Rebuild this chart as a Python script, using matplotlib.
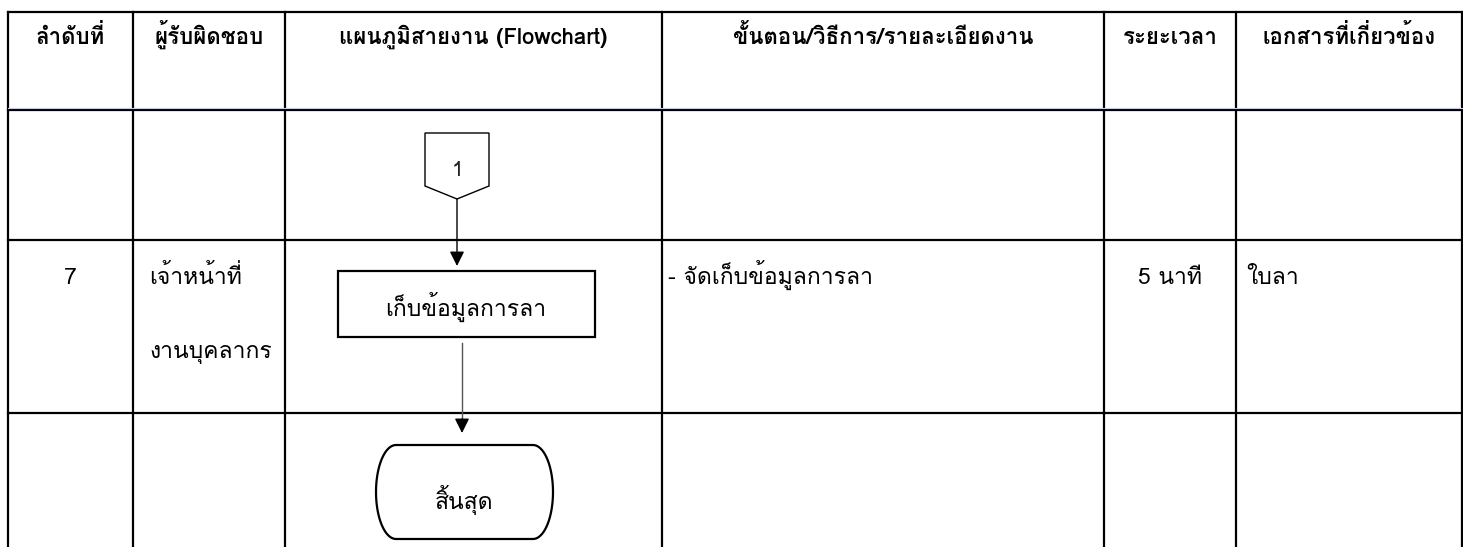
import numpy as np
import matplotlib
matplotlib.use("Agg")
import matplotlib.pyplot as plt
from matplotlib.patches import Polygon, Rectangle

# Loma places tone marks above upper vowels without shaping support
plt.rcParams['font.family'] = ['Loma', 'Sarabun', 'DejaVu Sans']

# table content
headers = ["ลำดับที่", "ผู้รับผิดชอบ", "แผนภูมิสายงาน (Flowchart)",
           "ขั้นตอน/วิธีการ/รายละเอียดงาน", "ระยะเวลา", "เอกสารที่เกี่ยวข้อง"]
step_no = "7"
owner = ["เจ้าหน้าที่", "งานบุคลากร"]
detail = "- จัดเก็บข้อมูลการลา"
duration = "5 นาที"
docs = "ใบลา"
connector_label = "1"
process_label = "เก็บข้อมูลการลา"
end_label = "สิ้นสุด"

# layout (pixels)
col_x = [8, 133, 285, 662, 1104, 1236, 1462]
row_y = [12, 110, 240, 413, 560]
fs_head = 16
fs_body = 16.5

fig = plt.figure(figsize=(14.63, 5.47), dpi=100)
ax = fig.add_axes([0, 0, 1, 1])
ax.set_xlim(0, 1463)
ax.set_ylim(547, 0)
ax.axis('off')

# grid
for x in col_x:
    ax.plot([x, x], [row_y[0], row_y[-1]], color='black', lw=1.6)
for y in row_y[:-1]:
    ax.plot([col_x[0], col_x[-1]], [y, y], color='black', lw=1.6)
ax.plot([col_x[0], col_x[-1]], [row_y[1] - 2, row_y[1] - 2], color='#c5cae6', lw=0.8)

# header
for i, h in enumerate(headers):
    cx = (col_x[i] + col_x[i + 1]) / 2
    ax.text(cx, 44, h, ha='center', va='baseline', fontsize=fs_head, fontweight='bold')

# row 7 text
base = 284
ax.text(70, base, step_no, ha='center', va='baseline', fontsize=fs_body)
ax.text(149, base, owner[0], ha='left', va='baseline', fontsize=fs_body)
ax.text(149, 358, owner[1], ha='left', va='baseline', fontsize=fs_body)
ax.text(668, base, detail, ha='left', va='baseline', fontsize=fs_body)
ax.text(1170, base, duration, ha='center', va='baseline', fontsize=fs_body)
ax.text(1246, base, docs, ha='left', va='baseline', fontsize=fs_body)

# off-page connector
cx = 457
conn = Polygon([[cx - 32, 133], [cx + 32, 133], [cx + 32, 186], [cx, 199], [cx - 32, 186]],
               closed=True, facecolor='white', edgecolor='black', lw=1.0)
ax.add_patch(conn)
ax.text(cx, 176, connector_label, ha='center', va='baseline', fontsize=15, color='#222222')
ax.annotate('', xy=(cx, 266), xytext=(cx, 199),
            arrowprops=dict(arrowstyle='-|>', color='black', lw=1.0,
                            mutation_scale=22, shrinkA=0, shrinkB=0))

# process box
ax.add_patch(Rectangle((338, 271), 257, 66, facecolor='white', edgecolor='black', lw=1.6))
ax.text(466, 316, process_label, ha='center', va='baseline', fontsize=fs_body)

# arrow to terminal (grey shaft, black head)
ax.plot([462, 462], [343, 421], color='#555555', lw=1.0)
ax.annotate('', xy=(462, 433), xytext=(462, 419),
            arrowprops=dict(arrowstyle='-|>', color='black', lw=1.0,
                            mutation_scale=22, shrinkA=0, shrinkB=0))

# terminal: flat top/bottom with elliptical ends
x0, x1, y0, y1, rx = 376, 553, 445, 539, 20
ry = (y1 - y0) / 2
ym = (y0 + y1) / 2
t = np.linspace(-np.pi / 2, np.pi / 2, 40)
right = np.column_stack([x1 - rx + rx * np.cos(t), ym + ry * np.sin(t)])
left = np.column_stack([x0 + rx - rx * np.cos(t), ym - ry * np.sin(t)])
ax.add_patch(Polygon(np.vstack([right, left]), closed=True,
                     facecolor='white', edgecolor='black', lw=1.6))
ax.text(464, 509, end_label, ha='center', va='baseline', fontsize=fs_body)

fig.savefig("out.png")
